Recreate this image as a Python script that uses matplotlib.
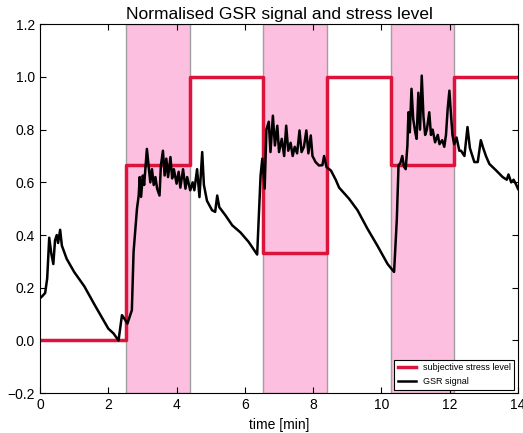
import numpy as np
import matplotlib
matplotlib.use('Agg')
import matplotlib.pyplot as plt

plt.rcParams['font.family'] = ['Liberation Sans', 'DejaVu Sans']

# stress intervals [min] and subjective stress level
stress_start = [2.53, 6.53, 10.27]
stress_end = [4.40, 8.40, 12.13]
level_times = [0, 2.53, 4.40, 6.53, 8.40, 10.27, 12.13, 14]
levels = [0, 2/3, 1, 1/3, 1, 2/3, 1, 1]

# GSR signal
gsr_t = [0.00, 0.08, 0.15, 0.21, 0.27, 0.33, 0.39, 0.44, 0.49, 0.53, 0.59, 0.64, 0.78,
         1.00, 1.30, 1.60, 1.80, 2.00, 2.15, 2.30, 2.40, 2.47, 2.56, 2.69, 2.74, 2.79,
         2.84, 2.89, 2.92, 2.96, 3.01, 3.05, 3.13, 3.18, 3.23, 3.28, 3.33, 3.38, 3.43,
         3.50, 3.54, 3.60, 3.65, 3.70, 3.75, 3.82, 3.87, 3.92, 4.00, 4.06, 4.11, 4.19,
         4.26, 4.31, 4.40, 4.47, 4.52, 4.60, 4.67, 4.75, 4.80, 4.89, 5.04, 5.13, 5.19,
         5.25, 5.43, 5.63, 5.87, 6.11, 6.36, 6.46, 6.51, 6.58, 6.63, 6.70, 6.75, 6.82,
         6.88, 6.95, 7.00, 7.08, 7.15, 7.21, 7.27, 7.34, 7.40, 7.46, 7.53, 7.60, 7.66,
         7.73, 7.80, 7.86, 7.93, 7.98, 8.07, 8.17, 8.27, 8.32, 8.39, 8.52, 8.66, 8.76,
         9.05, 9.30, 9.59, 9.88, 10.18, 10.37, 10.45, 10.50, 10.56, 10.61, 10.66, 10.71,
         10.76, 10.79, 10.83, 10.88, 10.93, 10.99, 11.03, 11.08, 11.13, 11.18, 11.23,
         11.28, 11.33, 11.40, 11.45, 11.50, 11.57, 11.65, 11.70, 11.78, 11.84, 11.89,
         11.94, 11.99, 12.04, 12.08, 12.13, 12.20, 12.28, 12.33, 12.43, 12.52, 12.59,
         12.72, 12.82, 12.91, 12.98, 13.06, 13.16, 13.36, 13.55, 13.67, 13.72, 13.80,
         13.87, 13.95, 14.00]
gsr = [0.16, 0.17, 0.18, 0.235, 0.39, 0.33, 0.29, 0.38, 0.40, 0.37, 0.42, 0.36, 0.31,
       0.26, 0.205, 0.135, 0.09, 0.045, 0.027, 0.0, 0.096, 0.083, 0.064, 0.115, 0.336, 0.42,
       0.50, 0.55, 0.62, 0.545, 0.626, 0.59, 0.727, 0.664, 0.60, 0.65, 0.59, 0.62, 0.576,
       0.55, 0.664, 0.72, 0.626, 0.69, 0.62, 0.696, 0.615, 0.65, 0.595, 0.64, 0.58, 0.65,
       0.576, 0.62, 0.57, 0.60, 0.57, 0.65, 0.544, 0.715, 0.59, 0.53, 0.494, 0.488, 0.55,
       0.506, 0.475, 0.437, 0.41, 0.374, 0.326, 0.626, 0.69, 0.576, 0.80, 0.83, 0.715, 0.853,
       0.74, 0.815, 0.715, 0.765, 0.70, 0.815, 0.72, 0.75, 0.70, 0.735, 0.71, 0.797, 0.715,
       0.735, 0.797, 0.71, 0.778, 0.70, 0.677, 0.664, 0.665, 0.70, 0.658, 0.645, 0.61, 0.58,
       0.538, 0.494, 0.424, 0.36, 0.29, 0.26, 0.46, 0.664, 0.675, 0.70, 0.66, 0.65,
       0.74, 0.866, 0.79, 0.955, 0.84, 0.79, 0.765, 0.94, 0.80, 1.005, 0.85,
       0.78, 0.80, 0.866, 0.78, 0.80, 0.752, 0.78, 0.745, 0.76, 0.735, 0.78,
       0.88, 0.948, 0.85, 0.78, 0.745, 0.77, 0.72, 0.72, 0.70, 0.81, 0.73,
       0.677, 0.677, 0.76, 0.73, 0.70, 0.67, 0.645, 0.62, 0.61, 0.63, 0.60,
       0.61, 0.59, 0.575]

fig = plt.figure(figsize=(5.23, 4.33), dpi=100)
ax = fig.add_axes([0.0765, 0.092, 0.914, 0.852])

for s, e in zip(stress_start, stress_end):
    ax.axvspan(s, e, facecolor='#fdbfe0', edgecolor='#a0a0a0', linewidth=1.0, zorder=0)

ax.step(level_times, levels, where='post', color='#dc143c', linewidth=2.5,
        label='subjective stress level', zorder=2)
ax.plot(gsr_t, gsr, color='black', linewidth=1.8, label='GSR signal', zorder=3)

ax.set_xlim(0, 14)
ax.set_ylim(-0.2, 1.2)
ax.set_xticks(np.arange(0, 15, 2))
ax.set_yticks(np.arange(-0.2, 1.21, 0.2))
ax.set_yticklabels(['\u22120.2', '0.0', '0.2', '0.4', '0.6', '0.8', '1.0', '1.2'])
ax.tick_params(direction='in', top=True, right=True, labelsize=10, length=4)
ax.set_xlabel('time [min]', fontsize=10)
ax.set_title('Normalised GSR signal and stress level', fontsize=12.5, pad=4)

leg = ax.legend(loc='lower right', fontsize=6.5, fancybox=False, framealpha=1,
                edgecolor='black', borderaxespad=0.4)
leg.get_frame().set_linewidth(0.8)

fig.savefig('out.png', dpi=100)
